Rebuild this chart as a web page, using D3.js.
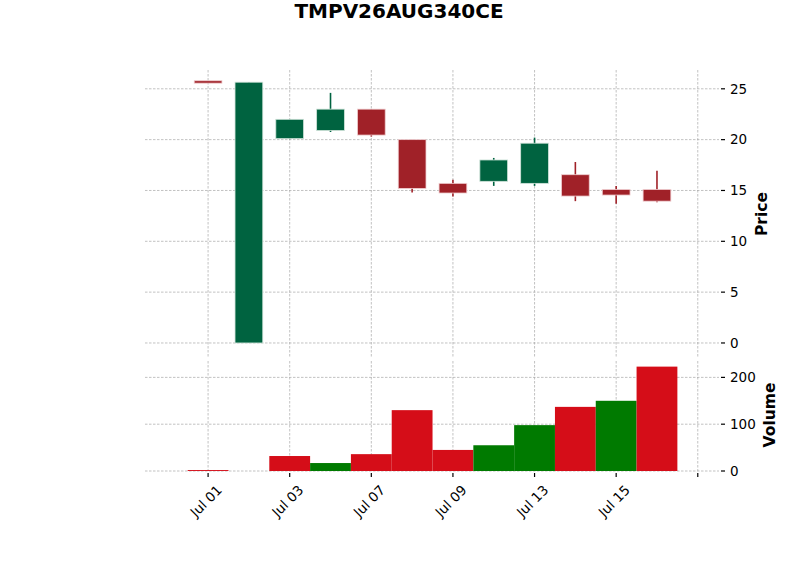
<!DOCTYPE html>
<html>
<head>
<meta charset="utf-8">
<script src="https://cdn.jsdelivr.net/npm/d3@7"></script>
<style>
  body { margin: 0; background: #fff; }
  text { font-family: "DejaVu Sans", sans-serif; fill: #000; }
</style>
</head>
<body>
<svg id="chart" width="800" height="575"></svg>
<script>
const dates = ["Jul 01", "Jul 02", "Jul 03", "Jul 06", "Jul 07", "Jul 08",
  "Jul 09", "Jul 10", "Jul 13", "Jul 14", "Jul 15", "Jul 16"];
const opens = [25.7, 0, 20.1, 20.9, 23.0, 20.0, 15.7, 15.9, 15.7, 16.55, 15.1, 15.1];
const highs = [25.7, 25.65, 22.0, 24.6, 23.0, 20.0, 16.05, 18.2, 20.2, 17.8, 15.45, 16.95];
const lows = [25.65, 0, 20.05, 20.75, 20.3, 14.8, 14.4, 15.45, 15.45, 13.95, 13.7, 13.85];
const closes = [25.65, 25.65, 22.0, 23.0, 20.45, 15.2, 14.75, 18.0, 19.65, 14.45, 14.55, 13.95];
const volumes = [2, 0, 32, 17, 36, 130, 45, 55, 98, 137, 150, 223];
const xTickIdx = [0, 2, 4, 6, 8, 10, 12];
const priceTicks = [0, 5, 10, 15, 20, 25];
const volumeTicks = [0, 100, 200];

const upColor = "#006340", downColor = "#a02128";
const volUp = "#007a00", volDown = "#d50d18";

const svg = d3.select("#chart");
const left = 145, right = 719;

const x = d3.scaleLinear().domain([-1.546, 12.52]).range([left, right]);
const step = x(1) - x(0);
const yP = d3.scaleLinear().domain([-1.38, 26.85]).range([357, 70]);
const yV = d3.scaleLinear().domain([0, 235]).range([471, 361]);

const data = dates.map((d, i) => ({
  i: i, date: d, o: opens[i], h: highs[i], l: lows[i], c: closes[i], v: volumes[i],
  volUpDir: i > 0 && closes[i] >= closes[i - 1]
}));

// grid, right-hand ticks and labels for one panel
function grid(y, ticks, top, bottom) {
  const g = svg.append("g");
  g.selectAll(".hg").data(ticks).enter().append("line")
    .attr("x1", left).attr("x2", right)
    .attr("y1", d => y(d)).attr("y2", d => y(d))
    .attr("stroke", "#a8a8a8").attr("stroke-width", 0.7).attr("stroke-dasharray", "2.5,1.5");
  g.selectAll(".vg").data(xTickIdx).enter().append("line")
    .attr("x1", d => x(d)).attr("x2", d => x(d))
    .attr("y1", top).attr("y2", bottom)
    .attr("stroke", "#a8a8a8").attr("stroke-width", 0.7).attr("stroke-dasharray", "2.5,1.5");
  g.selectAll(".tk").data(ticks).enter().append("line")
    .attr("x1", 721).attr("x2", 725)
    .attr("y1", d => y(d)).attr("y2", d => y(d))
    .attr("stroke", "#000").attr("stroke-width", 1.2);
  g.selectAll(".tl").data(ticks).enter().append("text")
    .attr("x", 730).attr("y", d => y(d))
    .attr("dy", "0.35em")
    .style("font-size", "13.5px")
    .text(d => d);
}
grid(yP, priceTicks, 70, 357);
grid(yV, volumeTicks, 361, 471);

// candles
const bw = step * 0.68;
const bodyH = d => Math.max(2.4, Math.abs(yP(d.o) - yP(d.c)));
const candles = svg.append("g").selectAll("g").data(data).enter().append("g");
candles.append("line")
  .attr("x1", d => x(d.i)).attr("x2", d => x(d.i))
  .attr("y1", d => yP(d.h)).attr("y2", d => yP(d.l))
  .attr("stroke", d => d.c >= d.o ? upColor : downColor)
  .attr("stroke-width", 1.6);
candles.append("rect")
  .attr("x", d => x(d.i) - bw / 2)
  .attr("width", bw)
  .attr("y", d => (yP(d.o) + yP(d.c)) / 2 - bodyH(d) / 2)
  .attr("height", bodyH)
  .attr("fill", d => d.c >= d.o ? upColor : downColor)
  .attr("stroke", d => d.c >= d.o ? "#cfe3d9" : "#f0cfd1")
  .attr("stroke-width", 0.8);

// volume
svg.append("g").selectAll("rect").data(data).enter().append("rect")
  .attr("x", d => x(d.i) - step / 2)
  .attr("width", step)
  .attr("y", d => yV(d.v))
  .attr("height", d => yV(0) - yV(d.v))
  .attr("fill", d => d.volUpDir ? volUp : volDown);

// x axis ticks
const xa = svg.append("g");
xa.selectAll("line").data(xTickIdx).enter().append("line")
  .attr("x1", d => x(d)).attr("x2", d => x(d))
  .attr("y1", 473).attr("y2", 477)
  .attr("stroke", "#000").attr("stroke-width", 1.2);
xa.selectAll("text").data(xTickIdx).enter().append("text")
  .attr("transform", d => "translate(" + (x(d) - 2) + ",501) rotate(-45)")
  .attr("text-anchor", "middle")
  .attr("dy", "0.35em")
  .style("font-size", "13.5px")
  .text(d => dates[d] || "");

// titles
svg.append("text").attr("x", 399).attr("y", 18)
  .attr("text-anchor", "middle")
  .style("font-size", "20px").style("font-weight", "bold")
  .text("TMPV26AUG340CE");
svg.append("text")
  .attr("transform", "translate(762,214) rotate(-90)")
  .attr("text-anchor", "middle").attr("dy", "0.35em")
  .style("font-size", "15.5px").style("font-weight", "bold")
  .text("Price");
svg.append("text")
  .attr("transform", "translate(770,415) rotate(-90)")
  .attr("text-anchor", "middle").attr("dy", "0.35em")
  .style("font-size", "15.5px").style("font-weight", "bold")
  .text("Volume");
</script>
</body>
</html>
